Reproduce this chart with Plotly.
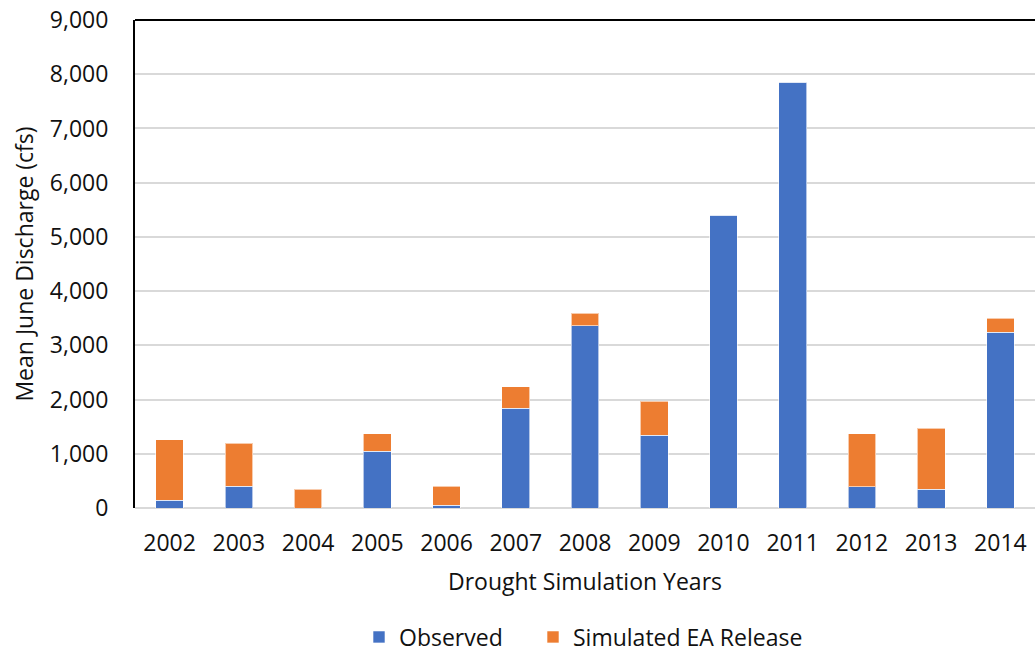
import plotly.graph_objects as go

# Mean June discharge by drought simulation year (cfs)
years = ["2002", "2003", "2004", "2005", "2006", "2007", "2008",
         "2009", "2010", "2011", "2012", "2013", "2014"]
observed = [140, 400, 0, 1050, 50, 1840, 3360, 1340, 5400, 7850, 390, 350, 3240]
simulated_ea = [1120, 790, 350, 320, 350, 400, 230, 630, 0, 0, 980, 1120, 260]

BLUE = "#4472C4"
ORANGE = "#ED7D31"
FONT = "Open Sans"
FS = 23
W, H = 1035, 652

fig = go.Figure()
fig.add_trace(go.Bar(
    x=years, y=observed, name="Observed", legend="legend",
    marker=dict(color=BLUE, line=dict(color="rgba(255,255,255,0.6)", width=1)),
))
fig.add_trace(go.Bar(
    x=years, y=simulated_ea, name="Simulated EA Release", legend="legend2",
    marker=dict(color=ORANGE, line=dict(color="rgba(255,255,255,0.6)", width=1)),
))

legend_common = dict(
    orientation="h", xanchor="left", yref="container", y=15 / H, yanchor="middle",
    xref="container", font=dict(size=FS), itemwidth=30, bgcolor="rgba(0,0,0,0)",
)

fig.update_layout(
    width=W, height=H,
    barmode="stack", bargap=0.6,
    plot_bgcolor="white", paper_bgcolor="white",
    margin=dict(l=135, r=0, t=20, b=144, autoexpand=False),
    font=dict(family=FONT, size=FS, color="#111111"),
    showlegend=True,
    legend=dict(legend_common, x=359 / W),
    legend2=dict(legend_common, x=533 / W),
    xaxis=dict(
        type="category", showline=False, showgrid=False, ticks="",
        ticklabelstandoff=19, automargin=False,
        title=dict(text="Drought Simulation Years", standoff=16, font=dict(size=FS)),
    ),
    yaxis=dict(
        range=[0, 9000], tickvals=list(range(0, 9001, 1000)),
        tickformat=",d", automargin=False,
        showgrid=True, gridcolor="#d9d9d9", gridwidth=2,
        zeroline=True, zerolinecolor="#d9d9d9", zerolinewidth=2,
        showline=True, linecolor="black", linewidth=2,
        ticks="", ticklabelstandoff=20,
        title=dict(text="Mean June Discharge (cfs)", standoff=10, font=dict(size=FS)),
    ),
    shapes=[dict(type="line", xref="paper", yref="paper", x0=0, x1=1, y0=1, y1=1,
                 line=dict(color="black", width=2))],
)

fig.write_html("out.html")
